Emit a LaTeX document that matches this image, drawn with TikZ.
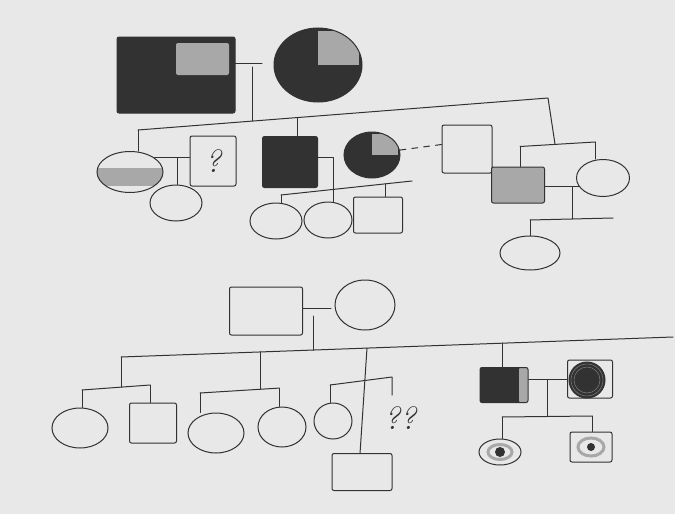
\documentclass[tikz,border=0pt]{standalone}
\usetikzlibrary{shapes.geometric}
\definecolor{bg}{RGB}{232,232,232}
\definecolor{ink}{RGB}{50,50,50}
\definecolor{dk}{RGB}{50,50,50}
\definecolor{md}{RGB}{168,168,168}
\newcommand\qfont{\fontsize{32}{32}\selectfont\itshape}
\begin{document}
\begin{tikzpicture}[x=1pt,y=-1pt,
  ln/.style={draw=ink,line width=1pt,line cap=round,line join=round},
  sq/.style={rectangle,draw=ink,line width=1pt,inner sep=0pt,rounded corners=2pt},
  el/.style={ellipse,draw=ink,line width=1pt,inner sep=0pt},
  quad/.style={path picture={\fill[dk] (path picture bounding box.south west) rectangle (path picture bounding box.north east);
     \fill[md] (path picture bounding box.center) rectangle ([xshift=-#1,yshift=-#1]path picture bounding box.north east);}},
  quad/.default=3pt,
  band/.style={path picture={\fill[md] ([yshift=-14pt]path picture bounding box.west) rectangle ([yshift=4pt]path picture bounding box.east);}},
  strip/.style={path picture={\fill[dk] (path picture bounding box.south west) rectangle (path picture bounding box.north east);
     \fill[md] ([xshift=-9pt]path picture bounding box.south east) rectangle (path picture bounding box.north east);}},
  dot/.style={circle,fill=dk,inner sep=0pt,minimum size=#1},
  ring/.style={ellipse,draw=md,line width=3pt,inner sep=0pt}
]
\fill[bg] (0,0) rectangle (675,514);
\useasboundingbox (0,0) rectangle (675,514);

% ---------- Generation I ----------
\node[sq,minimum width=118pt,minimum height=76pt,quad=6pt] (gf) at (176,75) {};
\node[el,minimum width=88pt,minimum height=74pt,quad=3pt] (gm) at (318,65) {};
\coordinate (m1) at (262,63);
\coordinate (m1d) at (252,67);
\draw[ln] (gf.east |- m1) -- (m1);
\coordinate (s1L) at (138,130);
\coordinate (s1a) at (252,121);
\coordinate (s1b) at (297,117.6);
\coordinate (s1R) at (548,98);
\coordinate (s2top) at (555,144);
\draw[ln] (m1d) -- (s1a);
\draw[ln] (s1L) -- (s1R) -- (s2top);

% ---------- Generation II ----------
\node[el,minimum width=66pt,minimum height=41pt,band] (c1) at (130,172) {};
\node[sq,minimum width=46pt,minimum height=50pt,font=\qfont,text=ink] (c1sp) at (213,161) {?};
\node[el,minimum width=52pt,minimum height=36pt] (c1ch) at (176,203) {};
\coordinate (m2) at (177,158);
\draw[ln] (s1L) -- (s1L |- c1.north);
\draw[ln] (c1.30) -- (c1.30 -| c1sp.west);
\draw[ln] (m2) -- (m2 |- c1ch.north);

\node[sq,minimum width=55pt,minimum height=51pt,fill=dk] (c2) at (290,162) {};
\node[el,minimum width=56pt,minimum height=46pt,quad=2pt] (c2sp) at (372,155) {};
\draw[ln] (s1b) -- (s1b |- c2.north);
\coordinate (m3) at (333,157);
\coordinate (s3m) at (333,189.5);
\coordinate (s3L) at (281,195);
\coordinate (s3R) at (412,181);
\coordinate (s3c) at (385,184);
\draw[ln] (c2.east |- m3) -- (m3) -- (s3m);
\draw[ln] (s3L) -- (s3R);
\node[el,minimum width=52pt,minimum height=36pt] (g1) at (276,221) {};
\node[el,minimum width=48pt,minimum height=36pt] (g2) at (328,220) {};
\node[sq,minimum width=49pt,minimum height=36pt] (g3) at (378,215) {};
\draw[ln] (s3L) -- (s3L |- g1.north);
\draw[ln] (s3m) -- (s3m |- g2.north);
\draw[ln] (s3c) -- (s3c |- g3.north);

\node[sq,minimum width=50pt,minimum height=48pt] (sqU) at (467,149) {};
\draw[ln,dash pattern=on 6pt off 6pt] (c2sp.10) -- (sqU.170);

\coordinate (s2L) at (520,146.5);
\coordinate (s2R) at (595,142);
\draw[ln] (s2L) -- (s2R);
\node[sq,minimum width=53pt,minimum height=36pt,fill=md] (c4) at (518,185) {};
\node[el,minimum width=53pt,minimum height=37pt] (c4sp) at (603,178) {};
\draw[ln] (s2L) -- (s2L |- c4.north);
\draw[ln] (s2R) -- (s2R |- c4sp.north);
\draw[ln] (c4.east |- c4sp.200) -- (c4sp.200);
\coordinate (m4) at (572,186.5);
\coordinate (s4m) at (572,219);
\coordinate (s4L) at (530,220);
\coordinate (s4R) at (613,218);
\draw[ln] (m4) -- (s4m);
\draw[ln] (s4L) -- (s4R);
\node[el,minimum width=60pt,minimum height=34pt] (c4ch) at (530,253) {};
\draw[ln] (s4L) -- (s4L |- c4ch.north);

% ---------- Second family ----------
\node[sq,minimum width=73pt,minimum height=48pt] (P) at (266,311) {};
\node[el,minimum width=60pt,minimum height=50pt] (Q) at (365,305) {};
\coordinate (m5) at (331,308);
\coordinate (m5d) at (313,316);
\coordinate (Lm) at (313,350.1);
\draw[ln] (P.east |- m5) -- (m5);
\draw[ln] (m5d) -- (Lm);
\coordinate (LL) at (121,357);
\coordinate (LR) at (673,337);
\coordinate (La) at (260,352);
\coordinate (Lb) at (367,348.1);
\coordinate (Lc) at (502,343.2);
\draw[ln] (LL) -- (LR);

% left group
\coordinate (a0) at (121,387.1);
\coordinate (aL) at (82,390);
\coordinate (aR) at (150,385);
\draw[ln] (LL) -- (a0);
\draw[ln] (aL) -- (aR);
\node[el,minimum width=56pt,minimum height=40pt] (e1) at (80,428) {};
\node[sq,minimum width=47pt,minimum height=40pt] (sqa) at (153,423) {};
\draw[ln] (aL) -- (aL |- e1.north);
\draw[ln] (aR) -- (aR |- sqa.north);

% middle group
\coordinate (b0) at (260,389.2);
\coordinate (bL) at (200,393);
\coordinate (bR) at (279,388.1);
\draw[ln] (La) -- (b0);
\draw[ln] (bL) -- (bR);
\node[el,minimum width=56pt,minimum height=40pt] (e2) at (216,433) {};
\node[el,minimum width=48pt,minimum height=40pt] (e3) at (282,427) {};
\draw[ln] (bL) -- (bL |- e2.north);
\draw[ln] (bR) -- (bR |- e3.north);

% right group
\node[sq,minimum width=60pt,minimum height=37pt] (sqb) at (362,472) {};
\coordinate (cbot) at (360,453.5);
\draw[ln] (Lb) -- (cbot);
\coordinate (cL) at (330,385);
\coordinate (cR) at (392,377);
\coordinate (cR2) at (392,395);
\draw[ln] (cL) -- (cR) -- (cR2);
\node[el,minimum width=38pt,minimum height=36pt] (e4) at (333,421) {};
\draw[ln] (cL) -- (cL |- e4.north);
\node[font=\qfont,text=ink] (qq) at (400,418) {??};

% right family
\node[sq,minimum width=48pt,minimum height=35pt,strip] (R1) at (504,385) {};
\node[sq,minimum width=45pt,minimum height=38pt] (R2) at (590,379) {};
\node[circle,fill=dk,draw=ink,line width=1pt,minimum size=36pt,inner sep=0pt] (R2c) at (587,380) {};
\draw[gray,line width=0.5pt] (R2c) circle (13pt);
\draw[gray,line width=0.5pt] (R2c) circle (16pt);
\draw[ln] (Lc) -- (Lc |- R1.north);
\coordinate (m6) at (547,379.5);
\coordinate (s6m) at (547,416.5);
\draw[ln] (R1.east |- m6) -- (R2.west |- m6);
\draw[ln] (m6) -- (s6m);
\coordinate (s6L) at (502,417);
\coordinate (s6R) at (592,416);
\draw[ln] (s6L) -- (s6R);
\node[el,minimum width=42pt,minimum height=26pt] (ch1) at (500,452) {};
\node[sq,minimum width=42pt,minimum height=30pt] (ch2) at (591,447) {};
\draw[ln] (s6L) -- (s6L |- ch1.north);
\draw[ln] (s6R) -- (s6R |- ch2.north);
\node[ring,minimum width=24pt,minimum height=15pt] (ch1r) at (ch1) {};
\node[dot=10pt] (ch1d) at (ch1) {};
\node[ring,minimum width=26pt,minimum height=18pt] (ch2r) at (ch2) {};
\node[dot=8pt] (ch2d) at (ch2) {};
\end{tikzpicture}
\end{document}
